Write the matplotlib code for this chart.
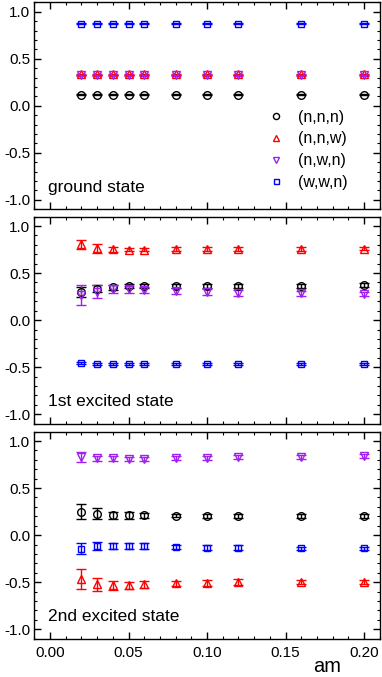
import matplotlib
matplotlib.use("Agg")
import matplotlib.pyplot as plt
from matplotlib.lines import Line2D
from matplotlib.ticker import MultipleLocator, FormatStrFormatter

plt.rcParams['font.family'] = ['Liberation Sans', 'DejaVu Sans']

am = [0.02, 0.03, 0.04, 0.05, 0.06, 0.08, 0.10, 0.12, 0.16, 0.20]

series_names = ["(n,n,n)", "(n,n,w)", "(n,w,n)", "(w,w,n)"]
colors = ["black", "#ff0000", "#a020f0", "#0000ff"]
markers = ["o", "^", "v", "s"]
msizes = [5.5, 6.0, 6.0, 4.5]

# ground state
g_nnn = [0.12] * 10
g_nnn_err = [0.006] * 10
g_nnw = [0.337] * 10
g_nnw_err = [0.006] * 10
g_nwn = [0.325] * 10
g_nwn_err = [0.006] * 10
g_wwn = [0.872] * 10
g_wwn_err = [0.005] * 10

# 1st excited state
e1_nnn = [0.30, 0.335, 0.35, 0.36, 0.36, 0.36, 0.363, 0.365, 0.365, 0.37]
e1_nnn_err = [0.05, 0.04, 0.025, 0.02, 0.02, 0.02, 0.02, 0.02, 0.02, 0.02]
e1_nnw = [0.805, 0.762, 0.752, 0.75, 0.75, 0.757, 0.757, 0.757, 0.757, 0.757]
e1_nnw_err = [0.05, 0.045, 0.03, 0.02, 0.02, 0.02, 0.02, 0.02, 0.02, 0.015]
e1_nwn = [0.27, 0.30, 0.33, 0.326, 0.32, 0.31, 0.30, 0.29, 0.285, 0.28]
e1_nwn_err = [0.105, 0.07, 0.045, 0.04, 0.035, 0.03, 0.03, 0.03, 0.025, 0.02]
e1_wwn = [-0.457, -0.466, -0.466, -0.466, -0.466, -0.466, -0.466, -0.466, -0.466, -0.466]
e1_wwn_err = [0.012, 0.01, 0.01, 0.01, 0.01, 0.01, 0.01, 0.01, 0.01, 0.01]

# 2nd excited state
e2_nnn = [0.25, 0.227, 0.21, 0.21, 0.21, 0.208, 0.205, 0.205, 0.20, 0.20]
e2_nnn_err = [0.08, 0.06, 0.04, 0.035, 0.03, 0.02, 0.02, 0.02, 0.02, 0.02]
e2_nnw = [-0.47, -0.525, -0.535, -0.535, -0.525, -0.514, -0.507, -0.50, -0.50, -0.495]
e2_nnw_err = [0.105, 0.07, 0.05, 0.04, 0.035, 0.03, 0.03, 0.03, 0.025, 0.02]
e2_nwn = [0.83, 0.815, 0.815, 0.81, 0.81, 0.823, 0.823, 0.83, 0.83, 0.837]
e2_nwn_err = [0.05, 0.03, 0.025, 0.02, 0.02, 0.02, 0.02, 0.02, 0.02, 0.02]
e2_wwn = [-0.145, -0.117, -0.117, -0.117, -0.117, -0.128, -0.135, -0.135, -0.142, -0.142]
e2_wwn_err = [0.06, 0.04, 0.035, 0.03, 0.03, 0.025, 0.025, 0.025, 0.02, 0.02]

panels = [
    ("ground state", [(g_nnn, g_nnn_err), (g_nnw, g_nnw_err), (g_nwn, g_nwn_err), (g_wwn, g_wwn_err)]),
    ("1st excited state", [(e1_nnn, e1_nnn_err), (e1_nnw, e1_nnw_err), (e1_nwn, e1_nwn_err), (e1_wwn, e1_wwn_err)]),
    ("2nd excited state", [(e2_nnn, e2_nnn_err), (e2_nnw, e2_nnw_err), (e2_nwn, e2_nwn_err), (e2_wwn, e2_wwn_err)]),
]

W, H = 382, 677
fig = plt.figure(figsize=(W / 100, H / 100), dpi=100)

left = 34.3 / W
right = 379.8 / W
tops = [2.3, 216.6, 431.6]
ph = 207.0

axes = []
for i, (label, data) in enumerate(panels):
    ax = fig.add_axes([left, 1 - (tops[i] + ph) / H, right - left, ph / H])
    axes.append(ax)
    for (vals, errs), c, m, s in zip(data, colors, markers, msizes):
        ax.errorbar(am, vals, yerr=errs, fmt=m, color=c, mfc='none', mec=c,
                    ms=s, mew=1.0, elinewidth=1.0, capsize=3.6, capthick=1.0)
    ax.set_xlim(-0.01, 0.21)
    ax.set_ylim(-1.1, 1.1)
    ax.xaxis.set_major_locator(MultipleLocator(0.05))
    ax.xaxis.set_minor_locator(MultipleLocator(0.01))
    ax.yaxis.set_major_locator(MultipleLocator(0.5))
    ax.yaxis.set_minor_locator(MultipleLocator(0.1))
    ax.yaxis.set_major_formatter(FormatStrFormatter('%.1f'))
    ax.xaxis.set_major_formatter(FormatStrFormatter('%.2f'))
    ax.tick_params(which='both', direction='in', top=True, right=True, labelsize=11)
    ax.tick_params(which='major', length=5, width=1.0)
    ax.tick_params(which='minor', length=2.5, width=0.8)
    ax.tick_params(axis='y', pad=3)
    ax.tick_params(axis='x', pad=5.5)
    for sp in ax.spines.values():
        sp.set_linewidth(1.0)
    if i < 2:
        ax.tick_params(axis='x', labelbottom=False)
    ax.text(0.04, 0.105, label, transform=ax.transAxes, fontsize=12.5,
            ha='left', va='center')

handles = [Line2D([], [], linestyle='none', marker=m, color=c, mfc='none',
                  mec=c, ms=s * 0.8, mew=1.0)
           for c, m, s in zip(colors, markers, msizes)]
axes[0].legend(handles, series_names, loc='lower right', frameon=False,
               fontsize=11.5, handlelength=0.8, handletextpad=1.0,
               labelspacing=0.42, borderaxespad=0.0,
               bbox_to_anchor=((354 - 34.3) / (379.8 - 34.3), 13 / 207.0))

fig.text(327 / W, 1 - 666 / H, "am", fontsize=14.5, ha='center', va='center')

fig.savefig("out.png", dpi=100)
